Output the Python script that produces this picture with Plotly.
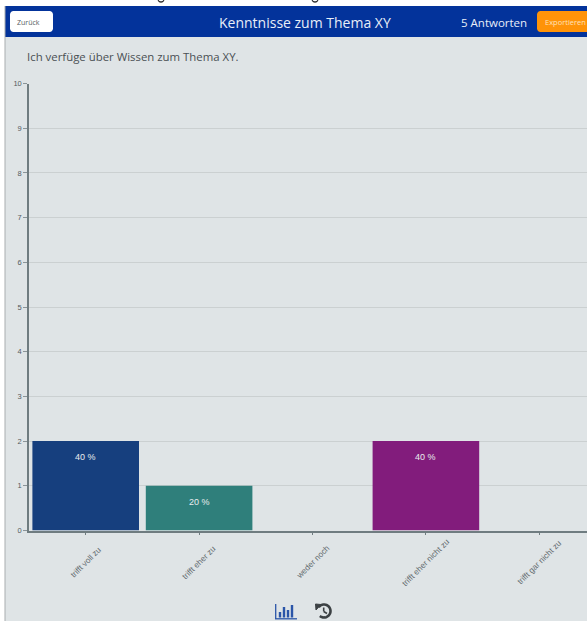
import math
import plotly.graph_objects as go

categories = ["trifft voll zu", "trifft eher zu", "weder noch", "trifft eher nicht zu", "trifft gar nicht zu"]
counts = [2, 1, 0, 2, 0]
bar_labels = ["40 %", "20 %", "", "40 %", ""]
bar_colors = ["#163F7E", "#2F7F7B", "#888888", "#821C7C", "#888888"]
y_ticks = list(range(0, 11))

W, H = 587, 621
PLOT_L, PLOT_T, PLOT_B = 29, 83.5, 530.5
CAT_W = 113.4


def px(x):
    return x / W


def py(y):
    return 1 - y / H


positions = list(range(len(categories)))

fig = go.Figure(go.Bar(
    x=positions, y=counts, marker=dict(color=bar_colors, line=dict(width=0)),
    width=0.94, cliponaxis=True, hoverinfo="skip",
))


def rect(x0, y0, x1, y1, color):
    return dict(type="rect", xref="paper", yref="paper", x0=px(x0), x1=px(x1), y0=py(y0), y1=py(y1),
                fillcolor=color, line=dict(width=0), layer="below")


def rrect(x0, y0, x1, y1, r, color):
    k = r * 0.45
    pts = [
        f"M {px(x0 + r)} {py(y0)}", f"L {px(x1 - r)} {py(y0)}",
        f"C {px(x1 - k)} {py(y0)} {px(x1)} {py(y0 + k)} {px(x1)} {py(y0 + r)}",
        f"L {px(x1)} {py(y1 - r)}",
        f"C {px(x1)} {py(y1 - k)} {px(x1 - k)} {py(y1)} {px(x1 - r)} {py(y1)}",
        f"L {px(x0 + r)} {py(y1)}",
        f"C {px(x0 + k)} {py(y1)} {px(x0)} {py(y1 - k)} {px(x0)} {py(y1 - r)}",
        f"L {px(x0)} {py(y0 + r)}",
        f"C {px(x0)} {py(y0 + k)} {px(x0 + k)} {py(y0)} {px(x0 + r)} {py(y0)} Z",
    ]
    return dict(type="path", xref="paper", yref="paper", path=" ".join(pts),
                fillcolor=color, line=dict(width=0), layer="below")


def ln(x0, y0, x1, y1, color, w):
    return dict(type="line", xref="paper", yref="paper", x0=px(x0), x1=px(x1), y0=py(y0), y1=py(y1),
                line=dict(color=color, width=w), layer="above")


def arc(cx, cy, r, a0, a1, color, w):
    steps = 28
    pts = []
    for i in range(steps + 1):
        a = math.radians(a0 + (a1 - a0) * i / steps)
        pts.append(f"{'M' if i == 0 else 'L'} {px(cx + r * math.cos(a))} {py(cy + r * math.sin(a))}")
    return dict(type="path", xref="paper", yref="paper", layer="above", path=" ".join(pts),
                line=dict(color=color, width=w))


ICON = "#3C4144"
BLUE = "#2B55A8"
shapes = [
    rect(5, 6, 587, 621, "#DFE4E6"),
    rect(5, 6, 587, 37, "#03339B"),
    rect(4.5, 6, 5.5, 621, "#A9ADAF"),
    rrect(10, 11, 53, 32, 3.5, "#FFFFFF"),
    rrect(537, 11, 600, 32, 3.5, "#FF9308"),
    # clipped line of text above the header
    arc(161, -1, 3, 20, 160, "#222222", 1.3),
    arc(315, -1, 3, 20, 160, "#222222", 1.3),
    # chart icon
    ln(275.7, 604, 275.7, 619, BLUE, 1.3),
    ln(275, 618.8, 297, 618.8, BLUE, 1.3),
    ln(280, 612, 280, 617.5, BLUE, 2.4),
    ln(284, 607, 284, 617.5, BLUE, 2.4),
    ln(288, 610, 288, 617.5, BLUE, 2.4),
    ln(292, 605, 292, 617.5, BLUE, 2.4),
    # history icon
    arc(324, 611, 6.5, 215, 490, ICON, 2.6),
    dict(type="path", xref="paper", yref="paper", layer="above",
         path=f"M {px(315.5)} {py(604)} L {px(321)} {py(604.5)} L {px(316)} {py(610)} Z",
         fillcolor=ICON, line=dict(color=ICON, width=1)),
    ln(323.7, 607.5, 323.7, 611.5, ICON, 1.6),
    ln(323.7, 611.5, 327, 613.5, ICON, 1.6),
]


def txt(x, y, s, size, color, family="Open Sans", anchor="left"):
    return dict(xref="paper", yref="paper", x=px(x), y=py(y), text=s, showarrow=False,
                xanchor=anchor, yanchor="middle", font=dict(family=family, size=size, color=color))


annotations = [
    txt(304.5, 22, "Kenntnisse zum Thema XY", 14, "#E8EEF8", anchor="center"),
    txt(493.5, 22, "5 Antworten", 11.5, "#E8EEF8", anchor="center"),
    txt(29, 22, "Zurück", 7, "#555B60", anchor="center"),
    txt(543, 22, "Exportieren", 7.5, "#FFE2B8"),
    txt(24.5, 57, "Ich verfüge über Wissen zum Thema XY.", 11.4, "#4A5054"),
]

for pos, label, count in zip(positions, bar_labels, counts):
    if label:
        annotations.append(dict(
            xref="x", yref="y", x=pos, y=count, yshift=-16, text=label, showarrow=False,
            xanchor="center", yanchor="middle",
            font=dict(family="Liberation Sans", size=9, color="#E8ECEE"),
        ))

for pos, cat in zip(positions, categories):
    annotations.append(dict(
        xref="x", yref="paper", x=pos, y=py(562), text=cat, showarrow=False, textangle=-45,
        xanchor="center", yanchor="middle",
        font=dict(family="Liberation Sans", size=8.2, color="#626A6E"),
    ))

fig.update_layout(
    width=W, height=H, margin=dict(l=0, r=0, t=0, b=0, autoexpand=False),
    paper_bgcolor="#FFFFFF", plot_bgcolor="rgba(0,0,0,0)", showlegend=False,
    shapes=shapes, annotations=annotations, bargap=0.06,
    font=dict(family="Liberation Sans"),
    xaxis=dict(
        domain=[px(PLOT_L), 1], range=[-0.5, -0.5 + (W - PLOT_L) / CAT_W],
        tickmode="array", tickvals=positions, showticklabels=False,
        ticks="outside", ticklen=3, tickcolor="#6F7C80", tickwidth=1,
        showline=True, linecolor="#6F7C80", linewidth=1.5,
        showgrid=False, zeroline=False, automargin=False,
    ),
    yaxis=dict(
        domain=[py(PLOT_B), py(PLOT_T)], range=[0, 10], tickmode="array", tickvals=y_ticks,
        ticks="outside", ticklen=4, tickcolor="#8A9498", tickwidth=1,
        tickfont=dict(size=7.5, color="#555B60"), showline=True, linecolor="#6F7C80", linewidth=1.5,
        showgrid=True, gridcolor="#CBD0D1", gridwidth=1, zeroline=False, automargin=False,
    ),
)

fig.write_html("out.html", post_script="document.body.style.margin='0';", config=dict(displayModeBar=False))
